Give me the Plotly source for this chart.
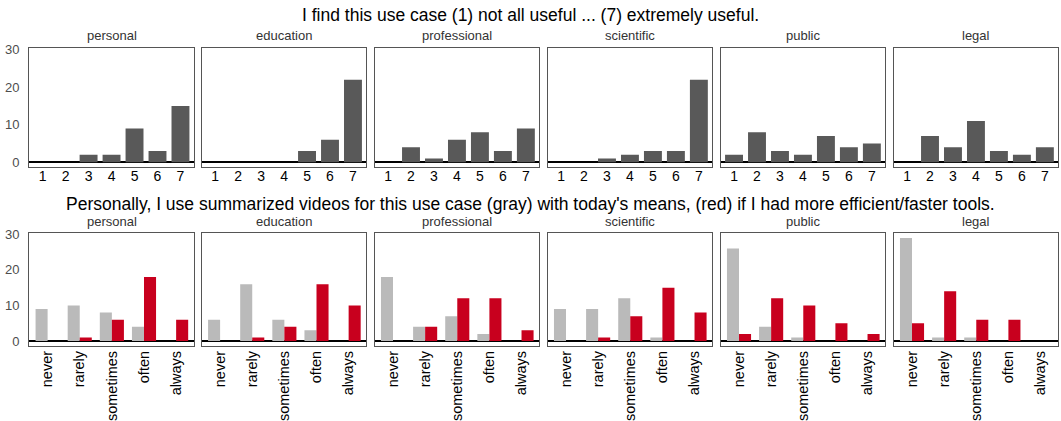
import plotly.graph_objects as go

# ---------------- data ----------------
use_cases = ["personal", "education", "professional", "scientific", "public", "legal"]
scale_levels = [1, 2, 3, 4, 5, 6, 7]
freq_levels = ["never", "rarely", "sometimes", "often", "always"]

useful_personal = [0, 0, 2, 2, 9, 3, 15]
useful_education = [0, 0, 0, 0, 3, 6, 22]
useful_professional = [0, 4, 1, 6, 8, 3, 9]
useful_scientific = [0, 0, 1, 2, 3, 3, 22]
useful_public = [2, 8, 3, 2, 7, 4, 5]
useful_legal = [0, 7, 4, 11, 3, 2, 4]

today_personal = [9, 10, 8, 4, 0]
today_education = [6, 16, 6, 3, 0]
today_professional = [18, 4, 7, 2, 0]
today_scientific = [9, 9, 12, 1, 0]
today_public = [26, 4, 1, 0, 0]
today_legal = [29, 1, 1, 0, 0]

faster_personal = [0, 1, 6, 18, 6]
faster_education = [0, 1, 4, 16, 10]
faster_professional = [0, 4, 12, 12, 3]
faster_scientific = [0, 1, 7, 15, 8]
faster_public = [2, 12, 10, 5, 2]
faster_legal = [5, 14, 6, 6, 0]

y_ticks = [0, 10, 20, 30]

title_top = "I find this use case (1) not all useful ... (7) extremely useful."
title_bottom = ("Personally, I use summarized videos for this use case (gray) with today's means, "
                "(red) if I had more efficient/faster tools.")

useful = [useful_personal, useful_education, useful_professional,
          useful_scientific, useful_public, useful_legal]
today = [today_personal, today_education, today_professional,
         today_scientific, today_public, today_legal]
faster = [faster_personal, faster_education, faster_professional,
          faster_scientific, faster_public, faster_legal]

# ---------------- layout geometry ----------------
W, H = 1061, 421
panel_left = [29.3, 201.8, 374.7, 547.7, 720.7, 893.7]
panel_w = 164.5
top_y = (48.0, 167.3)
bot_y = (233.3, 346.0)

FONT = "Liberation Sans, Arial, Helvetica, sans-serif"
DARK = "#595959"
GRAY = "#BABABA"
RED = "#C8001E"

fig = go.Figure()
layout = dict()
annotations = []

def xdom(i):
    return [panel_left[i] / W, (panel_left[i] + panel_w) / W]

def ydom(yy):
    return [1 - yy[1] / H, 1 - yy[0] / H]

for i, uc in enumerate(use_cases):
    # top row
    n = i + 1
    xa = f"x{n}" if n > 1 else "x"
    ya = f"y{n}" if n > 1 else "y"
    fig.add_trace(go.Bar(x=scale_levels, y=useful[i], marker_color=DARK,
                         marker_line_width=0, width=0.78, xaxis=xa, yaxis=ya,
                         showlegend=False, hoverinfo="x+y"))
    layout[f"xaxis{n}" if n > 1 else "xaxis"] = dict(
        domain=xdom(i), anchor=ya, range=[0.42, 7.58], tickvals=scale_levels,
        showline=True, mirror=True, linecolor="#555555", linewidth=1.3,
        showgrid=False, zeroline=False, ticks="", ticklen=0, ticklabelstandoff=-4,
        tickfont=dict(family=FONT, size=14, color="black"), fixedrange=True)
    layout[f"yaxis{n}" if n > 1 else "yaxis"] = dict(
        domain=ydom(top_y), anchor=xa, range=[-1.35, 30.5], tickvals=y_ticks,
        showline=True, mirror=True, linecolor="#555555", linewidth=1.3,
        showgrid=False, zeroline=True, zerolinecolor="black", zerolinewidth=2,
        ticks="", showticklabels=(i == 0), ticklabelstandoff=6,
        tickfont=dict(family=FONT, size=13, color="#4D4D4D"), fixedrange=True)
    annotations.append(dict(text=uc, x=panel_left[i] + panel_w / 2, y=36,
                            font=dict(family=FONT, size=13, color="#333333")))

    # bottom row
    m = i + 7
    xb = f"x{m}"
    yb = f"y{m}"
    fig.add_trace(go.Bar(x=freq_levels, y=today[i], marker_color=GRAY,
                         marker_line_width=0, xaxis=xb, yaxis=yb,
                         showlegend=False, name="today"))
    fig.add_trace(go.Bar(x=freq_levels, y=faster[i], marker_color=RED,
                         marker_line_width=0, xaxis=xb, yaxis=yb,
                         showlegend=False, name="faster tools"))
    layout[f"xaxis{m}"] = dict(
        domain=xdom(i), anchor=yb, range=[-0.57, 4.55], type="category",
        categoryarray=freq_levels, tickangle=-90, ticklen=0, ticklabelstandoff=-2,
        showline=True, mirror=True, linecolor="#555555", linewidth=1.3,
        showgrid=False, zeroline=False, ticks="",
        tickfont=dict(family=FONT, size=14.5, color="black"), fixedrange=True)
    layout[f"yaxis{m}"] = dict(
        domain=ydom(bot_y), anchor=xb, range=[-1.4, 30.3], tickvals=y_ticks,
        showline=True, mirror=True, linecolor="#555555", linewidth=1.3,
        showgrid=False, zeroline=True, zerolinecolor="black", zerolinewidth=2,
        ticks="", showticklabels=(i == 0), ticklabelstandoff=6,
        tickfont=dict(family=FONT, size=13, color="#4D4D4D"), fixedrange=True)
    annotations.append(dict(text=uc, x=panel_left[i] + panel_w / 2, y=221,
                            font=dict(family=FONT, size=13, color="#333333")))

annotations.append(dict(text=title_top, x=W / 2, y=15,
                        font=dict(family=FONT, size=17.5, color="black")))
annotations.append(dict(text=title_bottom, x=W / 2, y=204,
                        font=dict(family=FONT, size=17.5, color="black")))

# convert pixel annotation coords to paper
for a in annotations:
    a["x"] = a["x"] / W
    a["y"] = 1 - a["y"] / H
    a.update(xref="paper", yref="paper", showarrow=False,
             xanchor="center", yanchor="middle")

fig.update_layout(
    **layout,
    annotations=annotations,
    width=W, height=H,
    margin=dict(l=0, r=0, t=0, b=0, autoexpand=False),
    paper_bgcolor="white", plot_bgcolor="white",
    barmode="group", bargap=0.25, bargroupgap=0,
    showlegend=False,
    font=dict(family=FONT),
)

fig.write_html("out.html", config={"displayModeBar": False},
               post_script="document.body.style.margin='0';document.body.style.overflow='hidden';")
